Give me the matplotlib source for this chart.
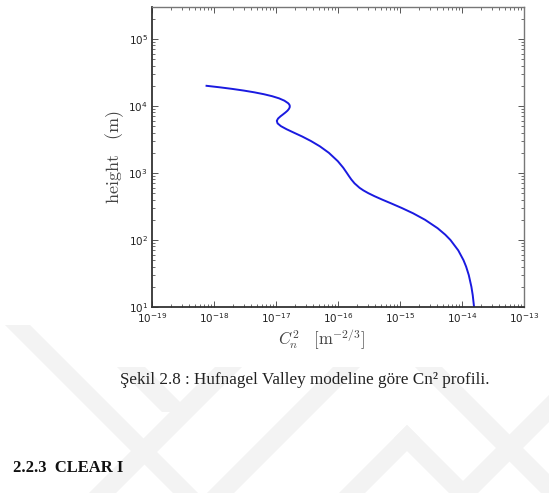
import matplotlib
matplotlib.use('Agg')
import matplotlib.pyplot as plt
from matplotlib.patches import Polygon

# values (height in m, Cn2 in m^-2/3)
height = [10, 15, 20, 30, 40, 50, 70, 100, 120, 150, 200, 250, 300, 350, 400,
          450, 500, 550, 600, 700, 800, 900, 1000, 1200, 1500, 2000, 2500,
          3000, 3500, 4000, 4500, 5000, 5500, 6000, 6500, 7000, 7500, 8000,
          8500, 9000, 9500, 10000, 10500, 11000, 12000, 13000, 14000, 15000,
          16000, 17000, 18000, 19000, 20000]
cn2 = [1.565e-14, 1.49e-14, 1.418e-14, 1.286e-14, 1.166e-14, 1.057e-14,
       8.70e-15, 6.51e-15, 5.37e-15, 4.04e-15, 2.54e-15, 1.63e-15, 1.07e-15,
       7.29e-16, 5.18e-16, 3.89e-16, 3.08e-16, 2.565e-16, 2.23e-16, 1.85e-16,
       1.64e-16, 1.50e-16, 1.39e-16, 1.213e-16, 9.93e-17, 7.12e-17, 5.1e-17,
       3.66e-17, 2.65e-17, 1.94e-17, 1.48e-17, 1.2e-17, 1.06e-17, 1.03e-17,
       1.08e-17, 1.18e-17, 1.30e-17, 1.42e-17, 1.53e-17, 1.61e-17, 1.66e-17,
       1.67e-17, 1.64e-17, 1.57e-17, 1.366e-17, 1.12e-17, 8.65e-18, 6.34e-18,
       4.45e-18, 3.0e-18, 1.954e-18, 1.234e-18, 7.58e-19]

xlim = (1e-19, 1e-13)
ylim = (1e1, 3e5)

caption = 'Şekil 2.8 : Hufnagel Valley modeline göre Cn² profili.'
heading = '2.2.3  CLEAR I'

plt.rcParams['mathtext.fontset'] = 'dejavusans'

W, H = 549, 493
fig = plt.figure(figsize=(W / 100, H / 100), dpi=100, facecolor='white')

# faint watermark behind the page (pixel coords, y downwards)
def px(pts):
    return [(x / W, 1 - y / H) for x, y in pts]

bands = [
    [(5, 325), (30, 325), (198, 493), (173, 493)],
    [(117, 367), (145, 367), (190, 412), (162, 412)],
    [(215, 367), (242, 367), (116, 493), (89, 493)],
    [(333, 367), (360, 367), (234, 493), (207, 493)],
    [(415, 367), (442, 367), (549, 474), (549, 501)],
    [(407, 425), (420, 438), (365, 493), (339, 493)],
    [(407, 425), (394, 438), (449, 493), (475, 493)],
    [(549, 395), (549, 422), (478, 493), (451, 493)],
]
for b in bands:
    fig.patches.append(Polygon(px(b), closed=True, transform=fig.transFigure,
                               facecolor='#f3f3f3', edgecolor='none', zorder=0))

ax = fig.add_axes([152 / W, (H - 307) / H, 372 / W, 300 / H])
ax.plot(cn2, height, color='#1a1ae0', linewidth=1.4)
ax.set_xscale('log')
ax.set_yscale('log')
ax.set_xlim(*xlim)
ax.set_ylim(*ylim)

ax.tick_params(which='both', direction='in', top=True, right=True,
               labelsize=7.5, pad=3, color='#555555', labelcolor='#222222')
ax.tick_params(which='major', length=4, width=0.7)
ax.tick_params(which='minor', length=2, width=0.6)
for side in ['left', 'bottom']:
    ax.spines[side].set_color('#333333')
    ax.spines[side].set_linewidth(1.3)
for side in ['top', 'right']:
    ax.spines[side].set_color('#777777')
    ax.spines[side].set_linewidth(1.0)

ax.set_xlabel(r'$C_n^2\quad[\mathrm{m}^{-2/3}]$', fontsize=12,
              math_fontfamily='cm', color='#444444')
ax.xaxis.set_label_coords((322 - 152) / 372, -0.068)
ax.set_ylabel(r'$\mathrm{height}\quad(\mathrm{m})$', fontsize=13,
              math_fontfamily='cm', color='#444444')
ax.yaxis.set_label_coords(-0.07, 0.5)

fig.text(120 / W, 1 - 380 / H, caption, family='Liberation Serif',
         fontsize=12.3, va='center', ha='left', color='#222222')
fig.text(13 / W, 1 - 468 / H, heading, family='Liberation Serif',
         fontsize=12, fontweight='bold', va='center', ha='left',
         color='#111111')

fig.savefig('out.png', dpi=100, facecolor='white')
